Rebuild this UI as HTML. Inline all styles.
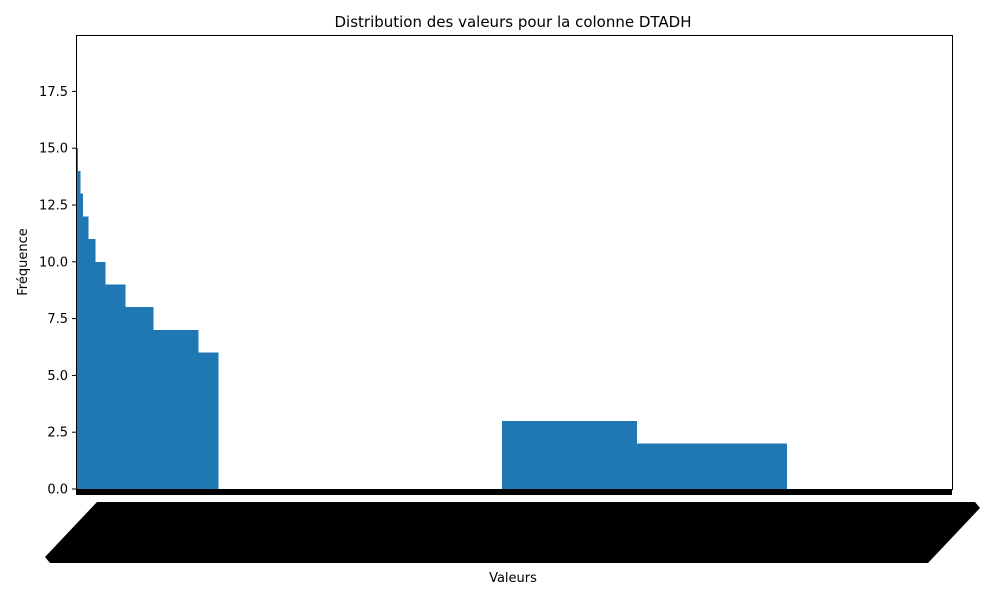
<!DOCTYPE html>
<html><head><meta charset="utf-8"><style>
body{margin:0;background:#fff;font-family:"Liberation Sans","DejaVu Sans",sans-serif}
svg text{font-family:"DejaVu Sans","Liberation Sans",sans-serif}
</style></head><body>
<svg id="chart" width="1000" height="600">
<text x="513" y="27" text-anchor="middle" font-size="15">Distribution des valeurs pour la colonne DTADH</text>
<g id="bars" shape-rendering="crispEdges"></g>
<g id="yticks"></g>
<rect x="76.5" y="35.5" width="876" height="454" fill="none" stroke="#000" stroke-width="1"/>
<rect x="76" y="489" width="876" height="6" fill="#000"/>
<polygon points="97,502 975,502 980,508 928,563 50,563 45,557" fill="#000"/>
<text x="513" y="582" text-anchor="middle" font-size="13">Valeurs</text>
<text transform="translate(27,262) rotate(-90)" text-anchor="middle" font-size="13">Fréquence</text>
</svg>
<script>
// groups of consecutive categories sharing one frequency (sorted value counts)
const groupValues = [15,14,13,12,11,10,9,8,7,6,0,3,2,0];
const groupCounts = [3,7,8,16,21,30,60,84,135,60,852,402,450,498];
const yTicks = [0,2.5,5,7.5,10,12.5,15,17.5];
const yTickLabels = ["0.0","2.5","5.0","7.5","10.0","12.5","15.0","17.5"];
const ns="http://www.w3.org/2000/svg";
const X0=76.5,X1=952.5,Y0=489,YMAX=19.96;
const total=groupCounts.reduce((a,b)=>a+b,0);
function xs(i){return X0+(X1-X0)*i/total;}
function ys(v){return Y0-(Y0-35.5)*v/YMAX;}
const bars=document.getElementById('bars');
let idx=0;
groupValues.forEach((v,g)=>{
  const r=document.createElementNS(ns,'rect');
  r.setAttribute('x',xs(idx));r.setAttribute('width',xs(idx+groupCounts[g])-xs(idx)+0.6);
  r.setAttribute('y',ys(v));r.setAttribute('height',Y0-ys(v));r.setAttribute('fill','#1f77b4');
  
  
  bars.appendChild(r);idx+=groupCounts[g];
});
const yt=document.getElementById('yticks');
yTicks.forEach((t,i)=>{
  const y=ys(t);
  const l=document.createElementNS(ns,'line');
  l.setAttribute('x1',72);l.setAttribute('x2',76.5);l.setAttribute('y1',y);l.setAttribute('y2',y);l.setAttribute('stroke','#000');
  
  
  yt.appendChild(l);
  const tx=document.createElementNS(ns,'text');
  tx.setAttribute('x',68);tx.setAttribute('y',y+4.5);tx.setAttribute('text-anchor','end');tx.setAttribute('font-size','13');
  tx.textContent=yTickLabels[i];
  
  
  yt.appendChild(tx);
});
</script>
</body></html>
